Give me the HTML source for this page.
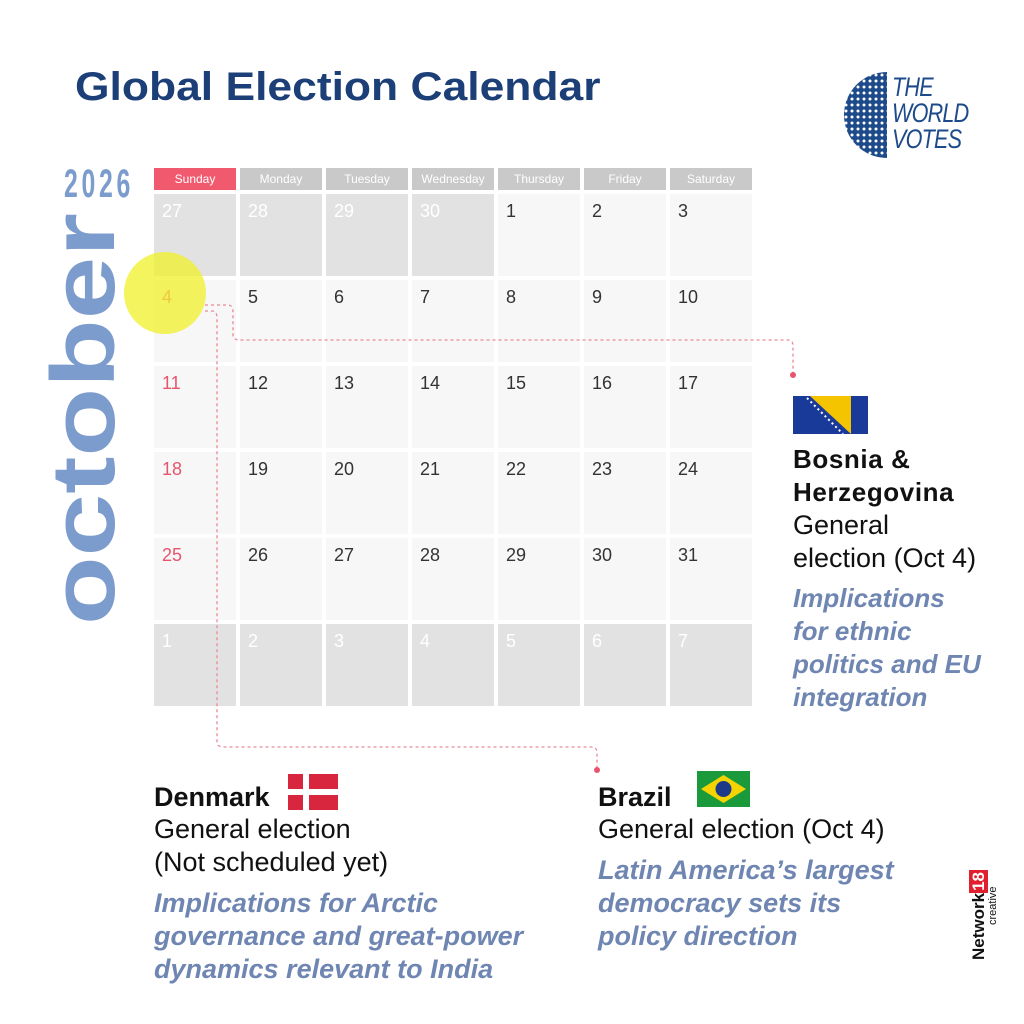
<!DOCTYPE html>
<html><head><meta charset="utf-8">
<style>
body{margin:0;width:1024px;height:1024px;background:#fff;position:relative;overflow:hidden;font-family:"Liberation Sans",sans-serif}
.a{position:absolute}
.h{position:absolute;top:168px;height:22px;line-height:22px;text-align:center;color:#fff;font-size:12px;background:#c9c9c9;width:82px}
.c{position:absolute;width:82px;height:82px;background:#f7f7f7;box-sizing:border-box;padding:7px 0 0 8px;font-size:18px;color:#333}
.g{background:#e2e2e2;color:#fff}
.r{color:#e8546c}
.t{position:absolute;color:#111;font-size:27px;line-height:33px;white-space:nowrap}
.b{font-weight:bold}
.i{font-style:italic;font-weight:bold;color:#6f86b2;font-size:27px;line-height:33px;white-space:nowrap}
</style></head><body>
<div class="a" style="left:75px;top:65px;font-size:40px;font-weight:bold;color:#1d3f78;transform:scaleX(1.11);transform-origin:left top">Global Election Calendar</div>

<svg class="a" style="left:825px;top:72px" width="64" height="86" viewBox="0 0 64 86">
<defs><clipPath id="cp"><path d="M62 0 A43 43 0 0 0 62 86 Z"/></clipPath><pattern id="pt" width="6" height="6" patternUnits="userSpaceOnUse"><rect width="6" height="6" fill="#1d4a8a"/><circle cx="3" cy="3" r="1.5" fill="#fff"/></pattern></defs>
<g clip-path="url(#cp)"><rect width="64" height="86" fill="url(#pt)"/></g>
</svg>
<div class="a" style="left:892px;top:74px;font-size:27px;line-height:26px;color:#1d4a8a;font-style:italic;transform:scaleX(0.8);transform-origin:left top;letter-spacing:-1px">THE<br>WORLD<br>VOTES</div>

<div class="a" style="left:64px;top:162px;font-size:40px;font-weight:bold;color:#7b9ccc;transform:scaleX(0.62);transform-origin:left top;letter-spacing:6px">2026</div>

<svg class="a" style="left:0;top:0" width="1024" height="1024">
<text transform="translate(114,625) rotate(-90)" font-family="Liberation Sans" font-weight="bold" font-size="90" fill="#7b9ccc" textLength="412" lengthAdjust="spacingAndGlyphs">october</text>
</svg>

<div class="h" style="left:154px;background:#f1596f">Sunday</div>
<div class="h" style="left:240px">Monday</div>
<div class="h" style="left:326px">Tuesday</div>
<div class="h" style="left:412px">Wednesday</div>
<div class="h" style="left:498px">Thursday</div>
<div class="h" style="left:584px">Friday</div>
<div class="h" style="left:670px">Saturday</div>

<div id="cal"></div>
<script>
var cal=document.getElementById('cal'),h='';
var rows=[[27,28,29,30,1,2,3],[4,5,6,7,8,9,10],[11,12,13,14,15,16,17],[18,19,20,21,22,23,24],[25,26,27,28,29,30,31],[1,2,3,4,5,6,7]];
for(var r=0;r<6;r++)for(var c=0;c<7;c++){var g=(r==0&&c<4)||r==5;var cls='c'+(g?' g':'')+(!g&&c==0?' r':'');h+='<div class="'+cls+'" style="left:'+(154+c*86)+'px;top:'+(194+r*86)+'px">'+rows[r][c]+'</div>';}
cal.innerHTML=h;
</script>

<div class="a" style="left:124px;top:252px;width:82px;height:82px;border-radius:50%;background:rgba(240,240,40,0.75)"></div>

<svg class="a" style="left:0;top:0" width="1024" height="1024">
<g fill="none" stroke="#e98a96" stroke-width="1.3" stroke-dasharray="3,3">
<path d="M205 305 H228 Q233 305 233 312 V335 Q233 340 240 340 H788 Q793 340 793 346 V375"/>
<path d="M205 311 H212 Q217 311 217 318 V742 Q217 747 224 747 H592 Q597 747 597 753 V770"/>
</g>
<circle cx="793" cy="375" r="3" fill="#e8546c"/>
<circle cx="597" cy="770" r="3" fill="#e8546c"/>
</svg>

<svg class="a" style="left:793px;top:396px" width="75" height="38" viewBox="0 0 75 38">
<rect width="75" height="38" fill="#1a3a9a"/><path d="M17 0 H58 V38 Z" fill="#f5c400"/>
<path d="M14 2 L50 38" stroke="#fff" stroke-width="2" stroke-dasharray="2,3"/>
</svg>
<div class="t b" style="left:793px;top:443px;font-size:26px;letter-spacing:0.6px">Bosnia &amp;<br>Herzegovina</div>
<div class="t" style="left:793px;top:509px">General<br>election (Oct 4)</div>
<div class="a i" style="left:793px;top:582px;font-size:26px">Implications<br>for ethnic<br>politics and EU<br>integration</div>

<div class="t b" style="left:154px;top:781px">Denmark</div>
<svg class="a" style="left:288px;top:774px" width="50" height="36" viewBox="0 0 50 36"><rect width="50" height="36" fill="#d7263d"/><rect x="15" width="6" height="36" fill="#fff"/><rect y="15" width="50" height="6" fill="#fff"/></svg>
<div class="t" style="left:154px;top:813px">General election<br>(Not scheduled yet)</div>
<div class="a i" style="left:154px;top:887px">Implications for Arctic<br>governance and great-power<br>dynamics relevant to India</div>

<div class="t b" style="left:598px;top:781px">Brazil</div>
<svg class="a" style="left:697px;top:771px" width="53" height="36" viewBox="0 0 53 36"><rect width="53" height="36" fill="#1b9a3c"/><path d="M26.5 4 L49 18 L26.5 32 L4 18 Z" fill="#f5d300"/><circle cx="26.5" cy="18" r="8" fill="#1d3a8a"/></svg>
<div class="t" style="left:598px;top:813px">General election (Oct 4)</div>
<div class="a i" style="left:598px;top:854px">Latin America’s largest<br>democracy sets its<br>policy direction</div>

<div class="a" style="left:969px;top:960px;transform:rotate(-90deg);transform-origin:left top;font-size:17px;font-weight:bold;color:#111;white-space:nowrap;line-height:20px">Network<span style="background:#e0202e;color:#fff;padding:0 2px">18</span></div>
<div class="a" style="left:986px;top:925px;transform:rotate(-90deg);transform-origin:left top;font-size:11px;color:#111;white-space:nowrap;line-height:14px">creative</div>
</body></html>
